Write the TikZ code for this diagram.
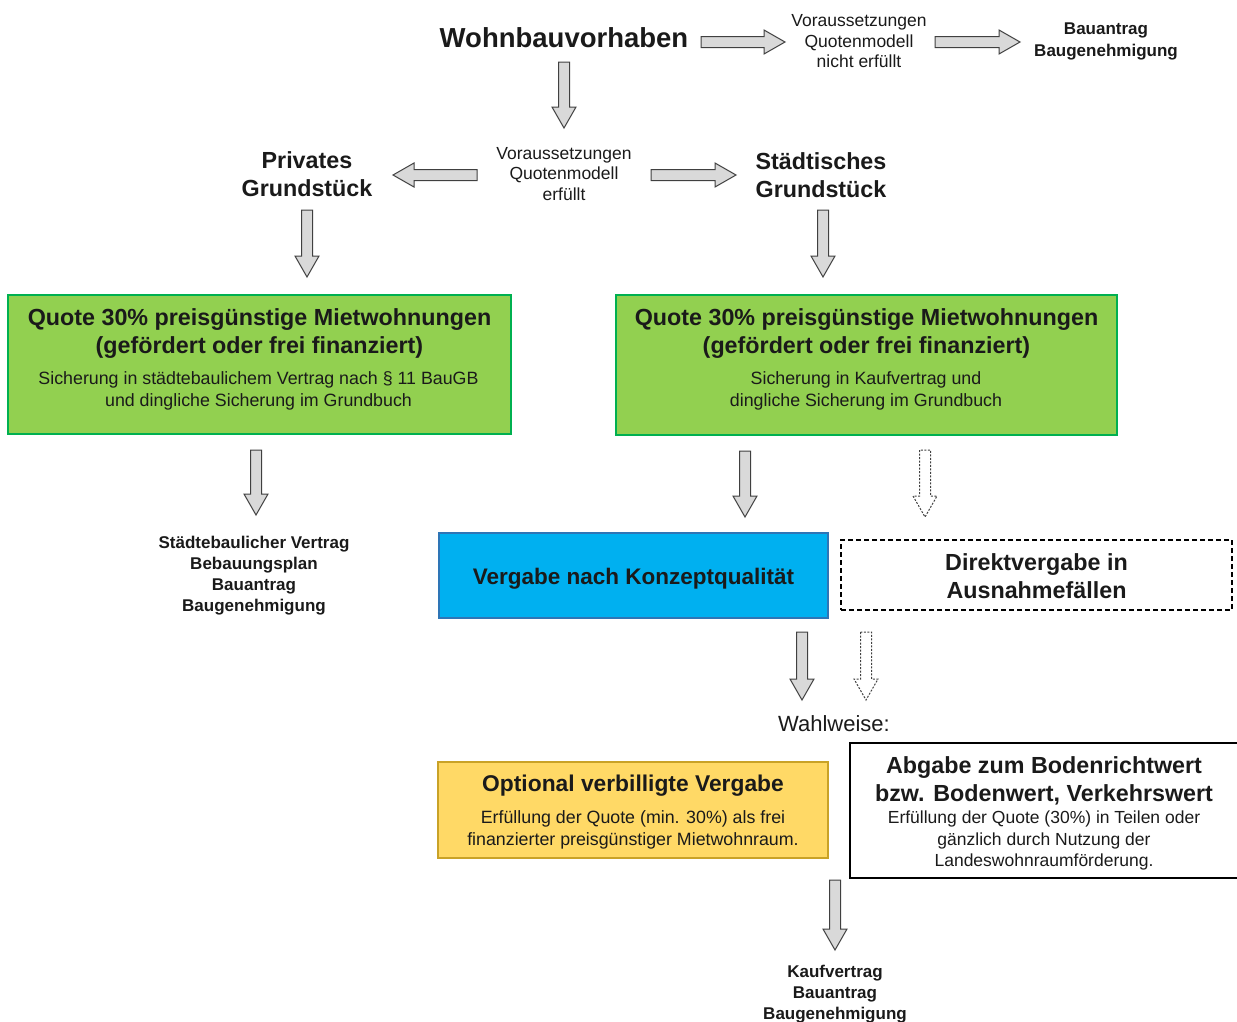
\documentclass[tikz,border=0pt]{standalone}
\usepackage{fontspec}
\setmainfont{Liberation Sans}
\usetikzlibrary{calc}
\definecolor{agray}{HTML}{D9D9D9}
\definecolor{aline}{HTML}{404040}
\definecolor{gfill}{HTML}{92D050}
\definecolor{gline}{HTML}{00B050}
\definecolor{bfill}{HTML}{00B0F0}
\definecolor{bline}{HTML}{2E75B6}
\definecolor{yfill}{HTML}{FFD966}
\definecolor{yline}{HTML}{C9A227}
\definecolor{txt}{HTML}{1A1A1A}
\newcommand{\arrR}[3][]{\draw[blockarrow,#1] ($(#2)+(0,-5.5)$) -- ($(#3)+(-21,-5.5)$) -- ($(#3)+(-21,-12)$) -- (#3) -- ($(#3)+(-21,12)$) -- ($(#3)+(-21,5.5)$) -- ($(#2)+(0,5.5)$) -- cycle;}
\newcommand{\arrL}[3][]{\draw[blockarrow,#1] ($(#2)+(0,-5.5)$) -- ($(#3)+(21,-5.5)$) -- ($(#3)+(21,-12)$) -- (#3) -- ($(#3)+(21,12)$) -- ($(#3)+(21,5.5)$) -- ($(#2)+(0,5.5)$) -- cycle;}
\newcommand{\arrD}[3][]{\draw[blockarrow,#1] ($(#2)+(-5.5,0)$) -- ($(#3)+(-5.5,-21)$) -- ($(#3)+(-12,-21)$) -- (#3) -- ($(#3)+(12,-21)$) -- ($(#3)+(5.5,-21)$) -- ($(#2)+(5.5,0)$) -- cycle;}
\tikzset{
  blockarrow/.style={draw=aline, fill=agray, line width=1pt, line join=miter},
  dasharrow/.style={fill=white, draw=aline, dash pattern=on 2pt off 1.5pt},
  lbl/.style={inner sep=0pt, align=center, text=txt},
  smalltxt/.style={lbl, font=\fontsize{17.5}{20.5}\selectfont},
  smallbold/.style={lbl, font=\fontsize{17}{21.2}\selectfont\bfseries},
  midbold/.style={lbl, font=\fontsize{23.3}{28}\selectfont\bfseries},
  boxtitle/.style={lbl, font=\fontsize{23.3}{28}\selectfont\bfseries},
  boxsub/.style={lbl, font=\fontsize{17.8}{22}\selectfont},
  greenbox/.style={draw=gline, fill=gfill, line width=1.2pt, inner sep=0pt},
}
\begin{document}
\begin{tikzpicture}[x=1pt, y=-1pt]
\useasboundingbox (0,0) rectangle (1237,1021);

% boxes
\node[greenbox, minimum width=503, minimum height=139] (gl) at (259.5,364.5) {};
\node[greenbox, minimum width=501, minimum height=140] (gr) at (866.5,365) {};
\node[draw=bline, fill=bfill, line width=1.2pt, inner sep=0pt, minimum width=389, minimum height=85] (blue) at (633.5,575.5) {};
\node[draw=black, dash pattern=on 5pt off 3pt, line width=1.2pt, inner sep=0pt, minimum width=391, minimum height=70] (dbox) at (1036.5,575) {};
\node[draw=yline, fill=yfill, line width=1.2pt, inner sep=0pt, minimum width=390, minimum height=96] (ybox) at (633,810) {};
\node[draw=black, line width=1.2pt, inner sep=0pt, minimum width=388, minimum height=135] (wbox) at (1044,810.5) {};

% texts
\node[lbl, font=\fontsize{27.5}{30}\selectfont\bfseries] (wohn) at (564,38) {Wohnbauvorhaben};
\node[smalltxt] (vnicht) at (859,41.5) {Voraussetzungen\\Quotenmodell\\nicht erfüllt};
\node[smallbold] (bau1) at (1106,41.5) {Bauantrag\\Baugenehmigung};
\node[smalltxt] (verf) at (564,174) {Voraussetzungen\\Quotenmodell\\erfüllt};
\node[midbold] (priv) at (307,174.5) {Privates\\Grundstück};
\node[midbold] (stadt) at (821,175.5) {Städtisches\\Grundstück};

\node[boxtitle] (glt) at (259.5,334) {Quote 30\% preisgünstige Mietwohnungen\\(gefördert oder frei finanziert)};
\node[boxsub] (gls) at (258.5,391) {Sicherung in städtebaulichem Vertrag nach § 11 BauGB\\und dingliche Sicherung im Grundbuch};
\node[boxtitle] (grt) at (866.5,334) {Quote 30\% preisgünstige Mietwohnungen\\(gefördert oder frei finanziert)};
\node[boxsub] (grs) at (866,391) {Sicherung in Kaufvertrag und\\dingliche Sicherung im Grundbuch};

\node[smallbold] (vertrag) at (254,575.5) {Städtebaulicher Vertrag\\Bebauungsplan\\Bauantrag\\Baugenehmigung};
\node[boxtitle, font=\fontsize{22.5}{28}\selectfont\bfseries] (bluet) at (633.5,578.5) {Vergabe nach Konzeptqualität};
\node[boxtitle] (dboxt) at (1036.5,576) {Direktvergabe in\\Ausnahmefällen};
\node[lbl, font=\fontsize{22}{26}\selectfont] (wahl) at (834,724) {Wahlweise:};
\node[boxtitle, font=\fontsize{22.8}{28}\selectfont\bfseries] (ybt) at (633,786) {Optional verbilligte Vergabe};
\node[boxsub] (ybs) at (633,829.5) {Erfüllung der Quote (min. 30\%) als frei\\finanzierter preisgünstiger Mietwohnraum.};
\node[boxtitle] (wbt) at (1044,781) {Abgabe zum Bodenrichtwert\\bzw. Bodenwert, Verkehrswert};
\node[boxsub, font=\fontsize{17.5}{21.5}\selectfont] (wbs) at (1044,840.5) {Erfüllung der Quote (30\%) in Teilen oder\\gänzlich durch Nutzung der\\Landeswohnraumförderung.};
\node[smallbold] (kauf) at (835,994) {Kaufvertrag\\Bauantrag\\Baugenehmigung};

% arrow end points
\coordinate (a1s) at (701,42);  \coordinate (a1e) at (785,42);
\coordinate (a2s) at (935,42);  \coordinate (a2e) at (1020,42);
\coordinate (a3s) at (477,175); \coordinate (a3e) at (393,175);
\coordinate (a4s) at (651,175); \coordinate (a4e) at (736,175);
\coordinate (a5s) at (564,62);  \coordinate (a5e) at (564,128);
\coordinate (a6s) at (307,210); \coordinate (a6e) at (307,277);
\coordinate (a7s) at (823,210); \coordinate (a7e) at (823,277);
\coordinate (a8s) at (256,450); \coordinate (a8e) at (256,515);
\coordinate (a9s) at (745,451); \coordinate (a9e) at (745,517);
\coordinate (a10s) at (925,450); \coordinate (a10e) at (925,517);
\coordinate (a11s) at (802,632); \coordinate (a11e) at (802,700);
\coordinate (a12s) at (866,632); \coordinate (a12e) at (866,700);
\coordinate (a13s) at (835,880); \coordinate (a13e) at (835,950);

\arrR{a1s}{a1e}
\arrR{a2s}{a2e}
\arrL{a3s}{a3e}
\arrR{a4s}{a4e}
\arrD{a5s}{a5e}
\arrD{a6s}{a6e}
\arrD{a7s}{a7e}
\arrD{a8s}{a8e}
\arrD{a9s}{a9e}
\arrD[dasharrow]{a10s}{a10e}
\arrD{a11s}{a11e}
\arrD[dasharrow]{a12s}{a12e}
\arrD{a13s}{a13e}
\end{tikzpicture}
\end{document}
